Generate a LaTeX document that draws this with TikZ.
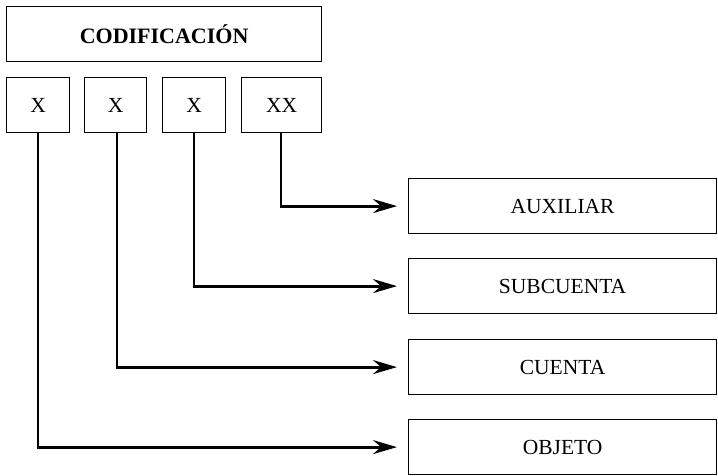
\documentclass[tikz,border=0pt]{standalone}
\usepackage{fontspec}
\setmainfont{Liberation Serif}
\usetikzlibrary{arrows.meta}
\begin{document}
\begin{tikzpicture}[x=1pt,y=-1pt,
  box/.style={draw, line width=1.2pt, inner sep=0pt, anchor=north west, font=\fontsize{21.5}{24}\selectfont},
  conn/.style={line width=2.8pt, -{Stealth[length=24pt,width=14pt,inset=8pt]}, shorten >=11pt}]
\useasboundingbox (0,0) rectangle (718,475);
\node[box, minimum width=315pt, minimum height=55pt, font=\fontsize{22}{26}\selectfont\bfseries] (cod) at (6,6) {CODIFICACIÓN};
\node[box, minimum width=63pt, minimum height=55pt] (x1) at (6,77) {X};
\node[box, minimum width=62pt, minimum height=55pt] (x2) at (84,77) {X};
\node[box, minimum width=63pt, minimum height=55pt] (x3) at (162,77) {X};
\node[box, minimum width=80pt, minimum height=55pt] (x4) at (241,77) {XX};
\node[box, minimum width=308pt, minimum height=55pt] (aux) at (408,178) {AUXILIAR};
\node[box, minimum width=308pt, minimum height=55pt] (sub) at (408,258) {SUBCUENTA};
\node[box, minimum width=308pt, minimum height=55pt] (cue) at (408,339) {CUENTA};
\node[box, minimum width=308pt, minimum height=55pt] (obj) at (408,419) {OBJETO};
\coordinate (s1) at (38,132);
\coordinate (s2) at (117,132);
\coordinate (s3) at (194,132);
\coordinate (s4) at (281,132);
\draw[conn] (s4) |- (aux.west);
\draw[conn] (s3) |- (sub.west);
\draw[conn] (s2) |- (cue.west);
\draw[conn] (s1) |- (obj.west);
\end{tikzpicture}
\end{document}
